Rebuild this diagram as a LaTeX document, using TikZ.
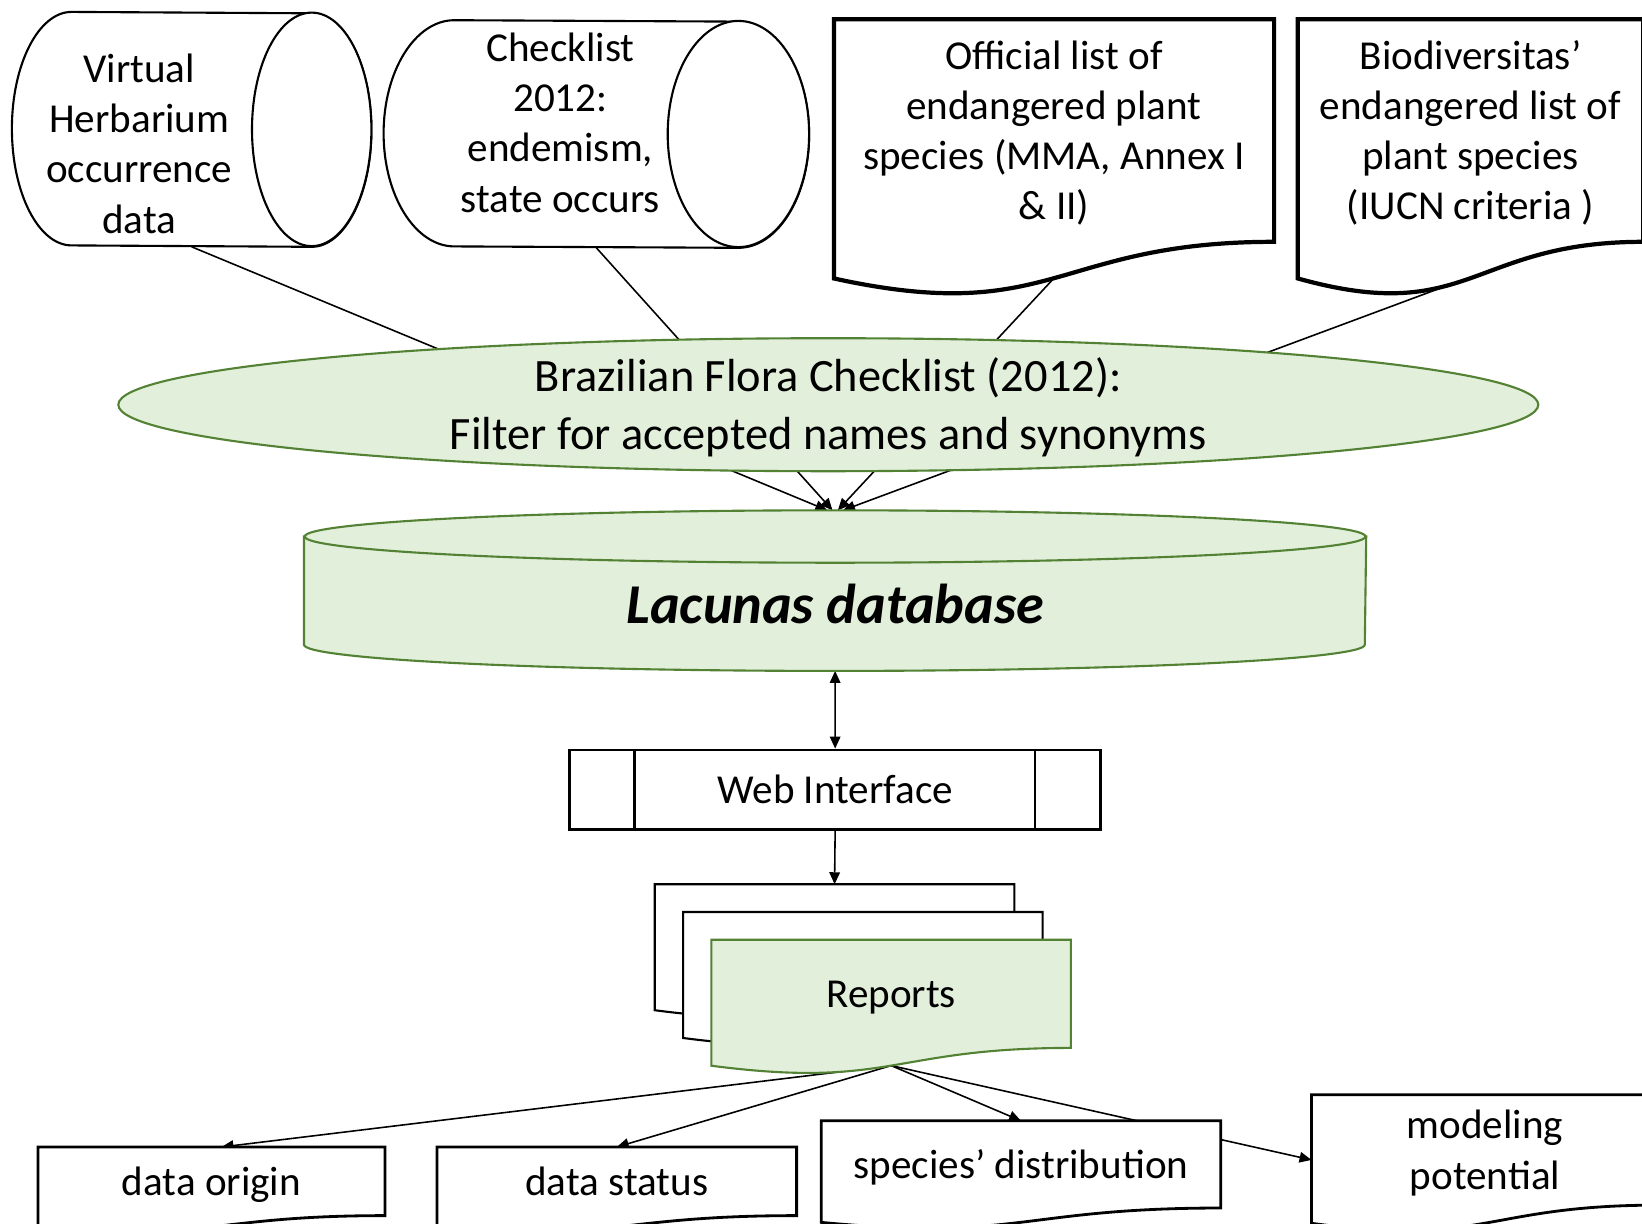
\documentclass[tikz,border=0pt]{standalone}
\usepackage{fontspec}
\setmainfont{Carlito}
\usetikzlibrary{positioning, arrows.meta, shapes.geometric, calc}

\definecolor{leafgreen}{HTML}{548235}
\definecolor{leaffill}{HTML}{E2EFDA}

\pgfdeclarelayer{edges}
\pgfdeclarelayer{background}
\pgfsetlayers{edges,background,main}

% line box as an office text line: ascent and descent
\newcommand{\lnstrut}{\rule[-0.27em]{0pt}{1.22em}}

% flowchart "document" outline, taken from a node's anchors
\newcommand{\docpath}[1]{(#1.north west) -- (#1.north east) -- (#1.south east)
  .. controls (#1.south) and ($(#1.south)!-0.381!(#1.north)$) ..
  ($(#1.south west)!-0.1646!(#1.north west)$) -- cycle}

% lying cylinder, open end on the right: node, x radius, y radius
\newcommand{\hcyl}[3]{%
  \draw[cylline] ($(#1.north west)+(#2,0)$)
    arc[start angle=90, end angle=270, x radius=#2, y radius=#3]
    -- ($(#1.south east)+(-#2,0)$)
    arc[start angle=-90, end angle=90, x radius=#2, y radius=#3] -- cycle;
  \draw[cylline] ($(#1.east)+(-#2,0)$) ellipse[x radius=#2, y radius=#3];}

\begin{document}
\begin{tikzpicture}[
    txt/.style={font=\fontsize{11.7}{14.3}\selectfont, align=center},
    cylnode/.style={inner sep=0},
    docnode/.style={txt, inner sep=0, execute at begin node=\lnstrut, execute at end node=\lnstrut},
    cylline/.style={draw=black, fill=white, line width=0.6pt},
    topdoc/.style={draw=black, fill=white, line width=1.2pt},
    lowdoc/.style={draw=black, fill=white, line width=0.8pt},
    stackdoc/.style={draw=black, fill=white, line width=0.6pt},
    greendoc/.style={draw=leafgreen, fill=leaffill, line width=0.6pt},
    conn/.style={line width=0.45pt, -{Triangle[length=3.4pt, width=3pt]}},
    both/.style={line width=0.45pt, {Triangle[length=3.4pt, width=3pt]}-{Triangle[length=3.4pt, width=3pt]}}
]

    \useasboundingbox (0,0) rectangle (16.42,-12.23);

    % Sources
    \node[cylnode, minimum width=3.581cm, minimum height=2.335cm,
        label={[txt, xshift=-0.524cm, yshift=-0.142cm]center:{Virtual\\Herbarium\\occurrence\\data}}]
        (vh) at (1.9165,-1.2935) {};
    \node[cylnode, minimum width=4.241cm, minimum height=2.262cm,
        label={[txt, xshift=-0.36cm, yshift=0.115cm]center:{Checklist\\2012:\\endemism,\\state occurs}}]
        (chk) at (5.9635,-1.34) {};
    \node[docnode, minimum width=4.388cm, minimum height=2.212cm] (off) at (10.54,-1.305)
        {\lnstrut Official list of\\endangered plant\\species (MMA, Annex I\\\& II)\lnstrut};
    \node[docnode, minimum width=3.44cm, minimum height=2.212cm] (bio) at (14.705,-1.305)
        {\lnstrut Biodiversitas’\\endangered list of\\plant species\\(IUCN criteria )\lnstrut};

    % Filter
    \node[ellipse, draw=leafgreen, fill=leaffill, line width=0.6pt, inner xsep=0, inner ysep=-0.12cm,
        minimum width=14.2cm, minimum height=1.33cm, align=center,
        font=\fontsize{13.2}{16.4}\selectfont] (flora) at (8.283,-4.047)
        {\lnstrut Brazilian Flora Checklist (2012):\\Filter for accepted names and synonyms\lnstrut};

    % Database
    \node[inner sep=0, minimum width=10.608cm, minimum height=0.806cm,
        font=\fontsize{16}{19}\selectfont\bfseries\itshape] (db) at (8.351,-6.037) {Lacunas database};

    % Web interface
    \node[txt, draw, line width=0.7pt, inner sep=0, minimum width=5.309cm, minimum height=0.796cm]
        (web) at (8.3515,-7.896) {Web Interface};
    \draw[line width=0.7pt] ([xshift=0.659cm]web.north west) -- ([xshift=0.659cm]web.south west)
        ([xshift=-0.67cm]web.north east) -- ([xshift=-0.67cm]web.south east);

    % Reports and outputs
    \node[docnode, minimum width=3.581cm, minimum height=1.068cm] (rep) at (8.9115,-9.938) {Reports};
    \node[docnode, minimum width=3.456cm, minimum height=0.672cm] (orig) at (2.115,-11.813) {data origin};
    \node[docnode, minimum width=3.582cm, minimum height=0.672cm] (stat) at (6.168,-11.813) {data status};
    \node[docnode, minimum width=3.98cm, minimum height=0.858cm] (dist) at (10.21,-11.644) {species’ distribution};
    \node[docnode, minimum width=3.456cm, minimum height=1.09cm] (model) at (14.85,-11.499)
        {\lnstrut modeling\\potential\lnstrut};

    \begin{pgfonlayer}{background}
        \hcyl{vh}{0.597}{1.1675}
        \hcyl{chk}{0.707}{1.131}
        \draw[topdoc] \docpath{off};
        \draw[topdoc] \docpath{bio};
        \draw[greendoc] ($(db.north west)+(0,0.262)$) -- (db.south west)
            arc[start angle=180, end angle=360, x radius=5.304, y radius=0.262]
            -- ($(db.north east)+(0,0.262)$) -- cycle;
        \draw[greendoc] ($(db.north)+(0,0.262)$) ellipse[x radius=5.304, y radius=0.262];
        \draw[stackdoc, transform canvas={shift={(-0.566,0.555)}}] \docpath{rep};
        \draw[stackdoc, transform canvas={shift={(-0.283,0.2775)}}] \docpath{rep};
        \draw[greendoc] \docpath{rep};
        \draw[lowdoc] \docpath{orig};
        \draw[lowdoc] \docpath{stat};
        \draw[lowdoc] \docpath{dist};
        \draw[lowdoc] \docpath{model};
    \end{pgfonlayer}

    \begin{pgfonlayer}{edges}
        \fill[white] (0,0) rectangle (16.42,-12.23);
        % into the database
        \draw[conn] (vh.south) -- ([xshift=-0.078cm, yshift=0.524cm]db.north);
        \draw[conn] (chk.south) -- ([xshift=-0.026cm, yshift=0.524cm]db.north);
        \draw[conn] ($(off.south)!-0.1633!(off.north)$) -- ([xshift=0.027cm, yshift=0.524cm]db.north);
        \draw[conn] ($(bio.south west)!0.43!(bio.south east)+(0,-0.441)$) -- ([xshift=0.079cm, yshift=0.524cm]db.north);
        \draw[both] ([yshift=-0.262cm]db.south) -- (web.north);
        \draw[conn] (web.south) -- ($(rep.north)+(-0.566,0.555)$);
        % out of the reports
        \coordinate (rep-b) at ($(rep.south)!-0.1633!(rep.north)$);
        \draw[conn] (rep-b) -- ([xshift=0.1cm]orig.north);
        \draw[conn] (rep-b) -- (stat.north);
        \draw[conn] (rep-b) -- (dist.north);
        \draw[conn] (rep-b) -- ([yshift=-0.1cm]model.west);
    \end{pgfonlayer}

\end{tikzpicture}
\end{document}
